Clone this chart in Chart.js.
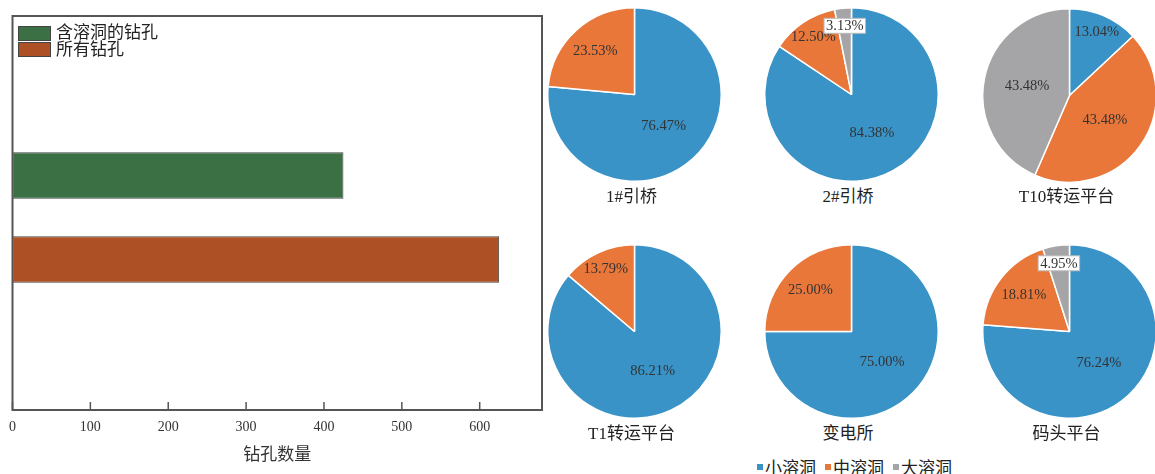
<!DOCTYPE html>
<html>
<head>
<meta charset="utf-8">
<script src="https://cdn.jsdelivr.net/npm/chart.js@4.4.1/dist/chart.umd.min.js"></script>
<style>
  body { margin: 0; width: 1155px; height: 474px; overflow: hidden; position: relative; background: #fff;
         font-family: "Liberation Serif", "Noto Sans CJK SC", serif; color: #222; }
  .abs { position: absolute; }
  #barLegend { left: 18px; top: 25px; font-size: 17px; line-height: 16.5px; }
  #barLegend div { display: flex; align-items: center; }
  #barLegend span.box { width: 31px; height: 13px; border: 1px solid #444; margin-right: 5px; }
  .pieTitle { font-size: 17px; text-align: center; width: 200px; }
  #pieLegend { left: 757px; top: 454px; font-size: 17px; display: flex; align-items: center; white-space: nowrap; }
  #pieLegend span.sq { display: inline-block; width: 6px; height: 6px; margin-right: 2px; }
  #pieLegend .item { display: flex; align-items: center; margin-right: 9px; }
</style>
</head>
<body>
<canvas id="bar" class="abs" style="left:0;top:0" width="560" height="474"></canvas>
<div id="barLegend" class="abs"></div>
<div id="pies"></div>
<div id="pieLegend" class="abs"></div>
<script>
// bar chart data
const barCategory = [''];
const barSeries = ['含溶洞的钻孔', '所有钻孔'];
const barValues = [425, 625];
const barColors = ['#3a7044', '#ad5025'];
const xTickValues = [0, 100, 200, 300, 400, 500, 600];
const xMax = 680;
const xTitle = '钻孔数量';

// pie charts data (percent)
const pieTitles = ['1#引桥', '2#引桥', 'T10转运平台', 'T1转运平台', '变电所', '码头平台'];
const pieCategories = ['小溶洞', '中溶洞', '大溶洞'];
const pieSmall  = [76.47, 84.38, 13.04, 86.21, 75.00, 76.24];
const pieMedium = [23.53, 12.50, 43.48, 13.79, 25.00, 18.81];
const pieLarge  = [0, 3.13, 43.48, 0, 0, 4.95];
const pieColors = ['#3993c7', '#e9773a', '#a5a5a8'];

// layout of the pies (centre x, centre y)
const pieCentres = [[634.5, 94.5], [851, 94.5], [1069.5, 95], [634.5, 331.5], [851, 331.5], [1069.5, 331.5]];
const pieSize = 175;

const serif = '"Liberation Serif", "Noto Sans CJK SC", serif';

// legend for the bar chart
const bl = document.getElementById('barLegend');
barSeries.forEach((s, i) => {
  const row = document.createElement('div');
  row.innerHTML = '<span class="box" style="background:' + barColors[i] + '"></span>' + s;
  bl.appendChild(row);
});

// frame + inward ticks
const framePlugin = {
  id: 'frame',
  afterDraw(chart) {
    const ctx = chart.ctx, a = chart.chartArea, xs = chart.scales.x;
    ctx.save();
    ctx.strokeStyle = '#555';
    ctx.lineWidth = 2;
    ctx.strokeRect(a.left, 16, a.right - a.left, a.bottom - 16);
    ctx.lineWidth = 1.5;
    xTickValues.forEach(v => {
      const px = xs.getPixelForValue(v);
      ctx.beginPath();
      ctx.moveTo(px, a.bottom);
      ctx.lineTo(px, a.bottom - 8);
      ctx.stroke();
    });
    ctx.restore();
  }
};

new Chart(document.getElementById('bar'), {
  type: 'bar',
  data: {
    labels: barCategory,
    datasets: barSeries.map((s, i) => ({
      label: s,
      data: [barValues[i]],
      backgroundColor: barColors[i],
      borderColor: '#444',
      borderWidth: 1,
      borderSkipped: false,
      categoryPercentage: 0.436,
      barPercentage: 0.553
    }))
  },
  options: {
    indexAxis: 'y',
    responsive: false,
    animation: false,
    layout: { padding: { left: 12, right: 18, top: 25, bottom: 0 } },
    plugins: { legend: { display: false }, tooltip: { enabled: false } },
    scales: {
      x: {
        min: 0, max: xMax,
        afterBuildTicks: s => { s.ticks = xTickValues.map(v => ({ value: v })); },
        afterFit: s => { s.height = 64; },
        grid: { display: false, drawTicks: false },
        border: { display: false },
        ticks: { color: '#333', padding: 9, maxRotation: 0, font: { family: serif, size: 14 } },
        title: { display: true, text: xTitle, color: '#333', padding: { top: 4, bottom: 8 },
                 font: { family: serif, size: 17 } }
      },
      y: { display: false, grid: { display: false } }
    }
  },
  plugins: [framePlugin]
});

// percentage labels inside the pies
const pieLabelPlugin = {
  id: 'pieLabels',
  afterDatasetsDraw(chart) {
    const ctx = chart.ctx;
    const values = chart.data.datasets[0].data;
    chart.getDatasetMeta(0).data.forEach((arc, i) => {
      const v = values[i];
      if (!v) return;
      const p = arc.getProps(['x', 'y', 'startAngle', 'endAngle', 'outerRadius'], true);
      const mid = (p.startAngle + p.endAngle) / 2;
      const f = v >= 40 ? 0.5 : (v >= 15 ? 0.67 : 0.79);
      const lx = p.x + Math.cos(mid) * p.outerRadius * f;
      const ly = p.y + Math.sin(mid) * p.outerRadius * f;
      const txt = v.toFixed(2) + '%';
      ctx.save();
      ctx.font = '14.5px ' + serif;
      ctx.textAlign = 'center';
      ctx.textBaseline = 'middle';
      if (v < 10 && i === 2) {
        const w = ctx.measureText(txt).width + 4;
        ctx.fillStyle = '#fff';
        ctx.fillRect(lx - w / 2, ly - 8, w, 15);
        ctx.strokeStyle = '#bbb';
        ctx.lineWidth = 1;
        ctx.strokeRect(lx - w / 2, ly - 8, w, 15);
      }
      ctx.fillStyle = '#333';
      ctx.fillText(txt, lx, ly);
      ctx.restore();
    });
  }
};

const piesDiv = document.getElementById('pies');
pieTitles.forEach((t, k) => {
  const [cx, cy] = pieCentres[k];
  const cv = document.createElement('canvas');
  cv.className = 'abs';
  cv.width = pieSize; cv.height = pieSize;
  cv.style.left = (cx - pieSize / 2) + 'px';
  cv.style.top = (cy - pieSize / 2) + 'px';
  piesDiv.appendChild(cv);

  const title = document.createElement('div');
  title.className = 'abs pieTitle';
  title.textContent = t;
  title.style.left = (cx - 100 - 3) + 'px';
  title.style.top = (cy + 87) + 'px';
  piesDiv.appendChild(title);

  new Chart(cv, {
    type: 'pie',
    data: {
      labels: pieCategories,
      datasets: [{
        data: [pieSmall[k], pieMedium[k], pieLarge[k]],
        backgroundColor: pieColors,
        borderColor: '#fff',
        borderWidth: 1.5
      }]
    },
    options: {
      responsive: false,
      animation: false,
      layout: { padding: 0 },
      plugins: { legend: { display: false }, tooltip: { enabled: false } }
    },
    plugins: [pieLabelPlugin]
  });
});

// shared legend for the pies
const pl = document.getElementById('pieLegend');
pieCategories.forEach((c, i) => {
  const it = document.createElement('div');
  it.className = 'item';
  it.innerHTML = '<span class="sq" style="background:' + pieColors[i] + '"></span>' + c;
  pl.appendChild(it);
});
</script>
</body>
</html>
